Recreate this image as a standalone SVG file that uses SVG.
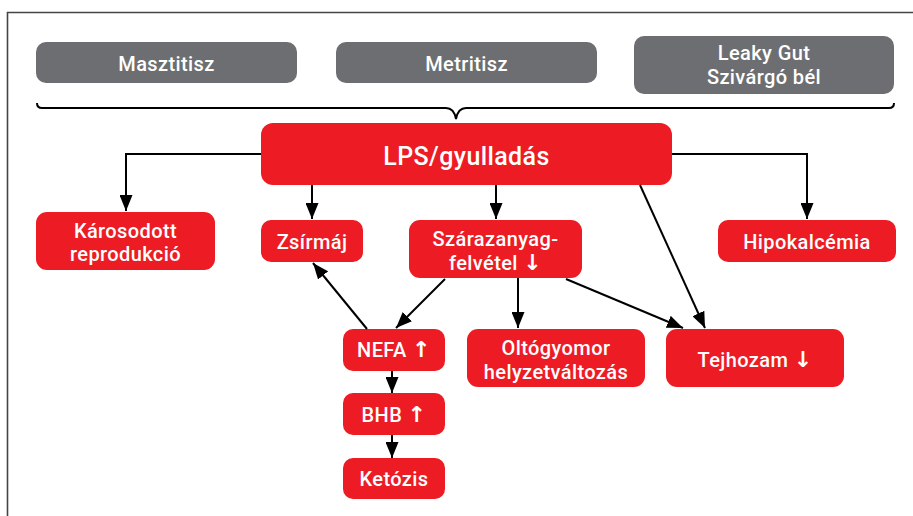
<svg xmlns="http://www.w3.org/2000/svg" width="913" height="516" viewBox="0 0 913 516">
<style>
.g{fill:#6D6E71}
.r{fill:#ED1C24}
text{font-family:Roboto,"Liberation Sans",sans-serif;font-weight:500;fill:#fff;text-anchor:middle;font-size:20px;letter-spacing:0.4px}
.ar{font-family:"DejaVu Sans",sans-serif;font-weight:bold;font-size:22px}
.c{stroke:#000;stroke-width:2;fill:none}
</style>
<defs>
<marker id="a" markerUnits="userSpaceOnUse" markerWidth="16" markerHeight="13" refX="16" refY="6.5" orient="auto">
<path d="M0,0 L16,6.5 L0,13 z" fill="#000"/>
</marker>
</defs>
<rect width="913" height="516" fill="#fff"/>
<path d="M7.5,516 V12.5 H913" fill="none" stroke="#444" stroke-width="1.6"/>
<g id="masztitisz"><rect class="g" x="36" y="42" width="261" height="41" rx="10"/><text x="166.5" y="71">Masztitisz</text></g>
<g id="metritisz"><rect class="g" x="336" y="42" width="261" height="41" rx="10"/><text x="466.5" y="71">Metritisz</text></g>
<g id="leaky"><rect class="g" x="634" y="36" width="260" height="58" rx="10"/><text x="764" y="60">Leaky Gut</text><text x="764" y="84">Szivárgó bél</text></g>
<path d="M37,103 Q37,108 42,108 H446 Q454,108 456,119 Q458,108 466,108 H889 Q894,108 894,103" class="c"/>
<g id="lps"><rect class="r" x="261" y="123" width="411" height="62" rx="12"/><text x="466.5" y="165" style="font-size:25px">LPS/gyulladás</text></g>
<g id="karosodott"><rect class="r" x="36" y="212" width="179" height="58" rx="11"/><text x="125.5" y="238">Károsodott</text><text x="125.5" y="261">reprodukció</text></g>
<g id="zsirmaj"><rect class="r" x="261" y="220" width="102" height="42" rx="10"/><text x="312" y="249">Zsírmáj</text></g>
<g id="szarazanyag"><rect class="r" x="409" y="220" width="173" height="58" rx="11"/><text x="495.5" y="246">Szárazanyag-</text><text x="495.5" y="270">felvétel <tspan class="ar">↓</tspan></text></g>
<g id="hipokalcemia"><rect class="r" x="718" y="220" width="178" height="42" rx="10"/><text x="807" y="249">Hipokalcémia</text></g>
<g id="nefa"><rect class="r" x="343" y="329" width="102" height="42" rx="10"/><text x="394" y="357">NEFA <tspan class="ar">↑</tspan></text></g>
<g id="oltogyomor"><rect class="r" x="467" y="329" width="178" height="58" rx="11"/><text x="556" y="355">Oltógyomor</text><text x="556" y="379">helyzetváltozás</text></g>
<g id="tejhozam"><rect class="r" x="666" y="329" width="178" height="58" rx="11"/><text x="755" y="367">Tejhozam <tspan class="ar">↓</tspan></text></g>
<g id="bhb"><rect class="r" x="343" y="393" width="102" height="42" rx="10"/><text x="394" y="422">BHB <tspan class="ar">↑</tspan></text></g>
<g id="ketozis"><rect class="r" x="343" y="458" width="102" height="41" rx="10"/><text x="394" y="486">Ketózis</text></g>
<g id="connectors" class="c" marker-end="url(#a)">
<path d="M261,154 H126 V211"/>
<path d="M312,185 V219"/>
<path d="M496,185 V219"/>
<path d="M672,154 H807 V219"/>
<path d="M640,185 L705,328"/>
<path d="M566,279 L683,328"/>
<path d="M518,278 V328"/>
<path d="M445,279 L396,328"/>
<path d="M367,329 L313,263"/>
<path d="M392,371 V393"/>
<path d="M392,435 V458"/>
</g>
</svg>
